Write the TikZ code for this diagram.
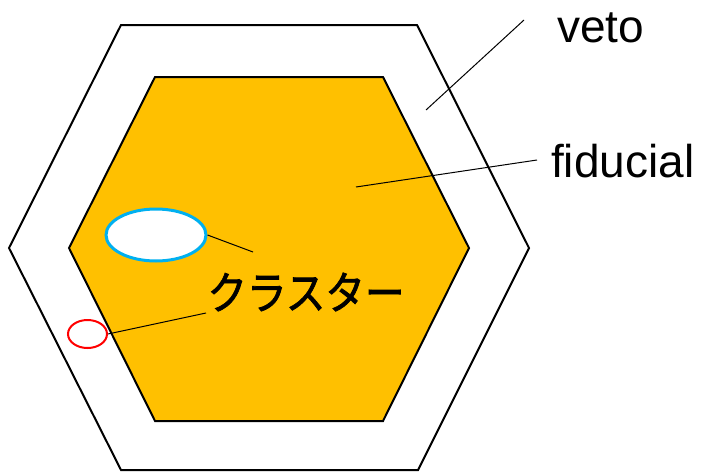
\documentclass[tikz,border=0pt]{standalone}
\usepackage{fontspec}
\usetikzlibrary{shapes.geometric}
\setmainfont{Liberation Sans}
\newfontfamily\cjk{Noto Sans CJK JP}[FakeBold=1.6,FakeStretch=0.88]
\definecolor{fidorange}{RGB}{255,192,0}
\definecolor{clblue}{RGB}{0,176,240}
\definecolor{clred}{RGB}{255,0,0}
\begin{document}
\begin{tikzpicture}[x=1pt,y=-1pt,
  hexline/.style={draw=black,line width=2pt,line join=miter},
  leader/.style={draw=black,line width=1pt},
  lbl/.style={inner sep=0pt,font=\fontsize{46}{50}\selectfont}]
\useasboundingbox (0,0) rectangle (701,471);
% outer hexagon (veto)
\draw[hexline,fill=white] (121,25) -- (417,25) -- (529,248) -- (418,470) -- (121,470) -- (9,248) -- cycle;
% inner hexagon (fiducial)
\draw[hexline,fill=fidorange] (155,77) -- (383,77) -- (469,248) -- (383,421) -- (155,421) -- (69,248) -- cycle;
% clusters
\node[draw=clblue,line width=3pt,fill=white,ellipse,minimum width=100pt,minimum height=52pt,inner sep=0pt] (c1) at (156,235) {};
\node[draw=clred,line width=2pt,ellipse,minimum width=39pt,minimum height=28pt,inner sep=0pt] (c2) at (87.5,334) {};
% labels
\node[lbl,anchor=base west] (veto) at (557,42) {veto};
\node[lbl,anchor=base west] (fid) at (551,177) {fiducial};
\node[inner sep=0pt,font=\cjk\fontsize{45}{48}\selectfont] (clt) at (306,292) {クラスター};
% leaders
\coordinate (vA) at (524,20);
\coordinate (vB) at (426,110);
\coordinate (fA) at (537,160);
\coordinate (fB) at (356,187);
\coordinate (kA) at (253,252);
\coordinate (kB) at (206,313);
\draw[leader] (vA) -- (vB);
\draw[leader] (fA) -- (fB);
\draw[leader] (c1.east) -- (kA);
\draw[leader] (kB) -- (c2.east);
\end{tikzpicture}
\end{document}
